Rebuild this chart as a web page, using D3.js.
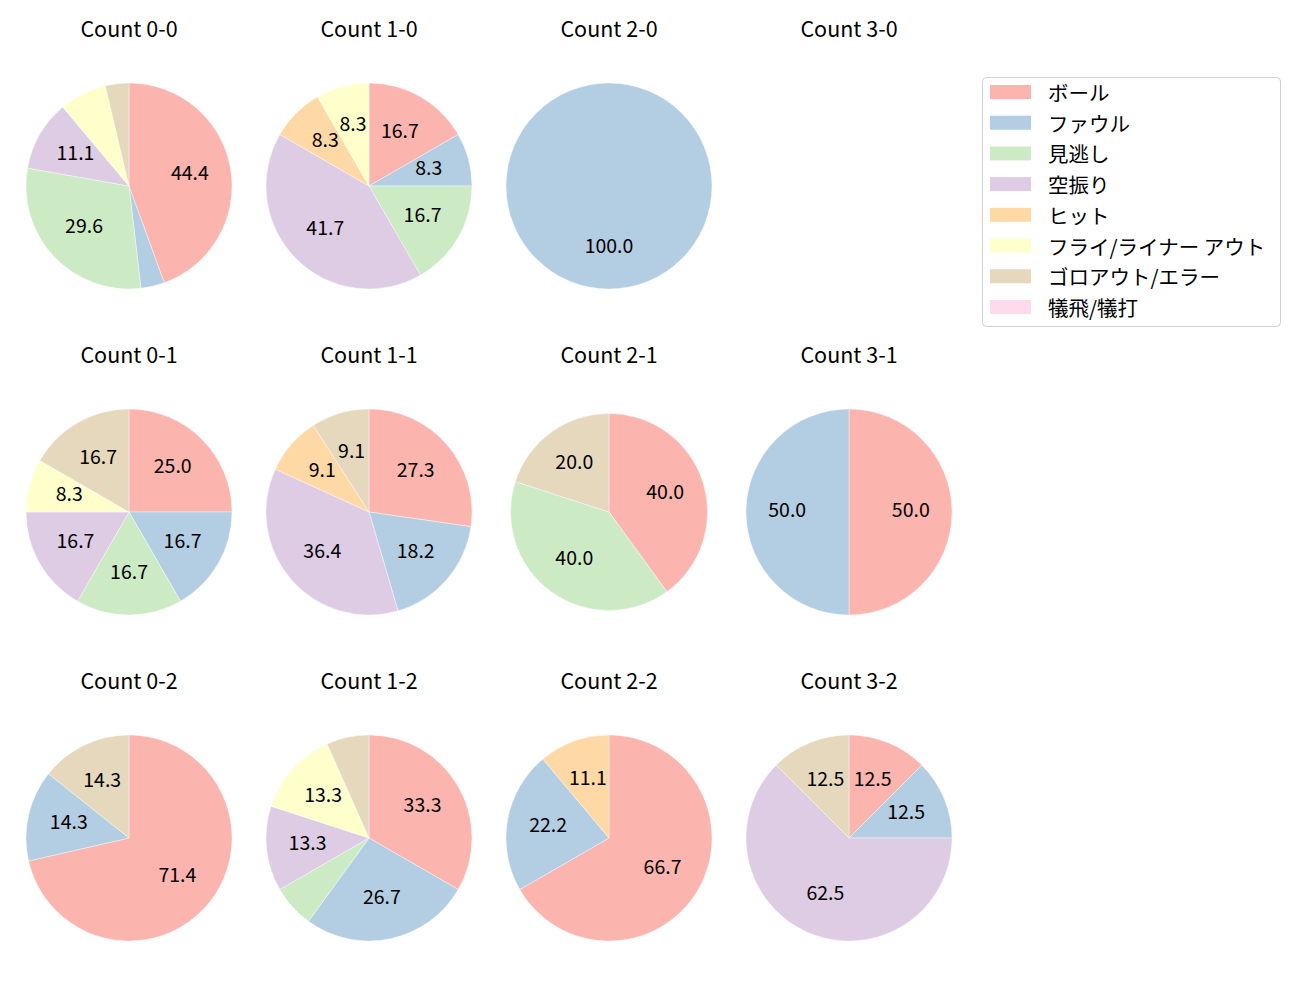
<!DOCTYPE html>
<html>
<head>
<meta charset="utf-8">
<script src="https://cdn.jsdelivr.net/npm/d3@7"></script>
<style>
    body { margin: 0; background: #fff; }
    text { font-family: "Noto Sans CJK JP", "Noto Sans", sans-serif; fill: #000; }
</style>
</head>
<body>
<svg id="svg" width="1300" height="1000"></svg>
<script>
// pitch result categories (legend order)
var categories = ['ボール', 'ファウル', '見逃し', '空振り', 'ヒット', 'フライ/ライナー アウト', 'ゴロアウト/エラー', '犠飛/犠打'];
var colors = ['#fbb4ae', '#b3cde3', '#ccebc5', '#decbe4', '#fed9a6', '#ffffcc', '#e5d8bd', '#fddaec'];

// counts, laid out 4 per row
var counts = ['0-0', '1-0', '2-0', '3-0', '0-1', '1-1', '2-1', '3-1', '0-2', '1-2', '2-2', '3-2'];

// number of pitches per category for each count
var c00 = [12, 1, 8, 3, 0, 2, 1, 0];
var c10 = [2, 1, 2, 5, 1, 1, 0, 0];
var c20 = [0, 1, 0, 0, 0, 0, 0, 0];
var c30 = [0, 0, 0, 0, 0, 0, 0, 0];
var c01 = [3, 2, 2, 2, 0, 1, 2, 0];
var c11 = [3, 2, 0, 4, 1, 0, 1, 0];
var c21 = [2, 0, 2, 0, 0, 0, 1, 0];
var c31 = [1, 1, 0, 0, 0, 0, 0, 0];
var c02 = [5, 1, 0, 0, 0, 0, 1, 0];
var c12 = [5, 4, 1, 2, 0, 2, 1, 0];
var c22 = [6, 2, 0, 0, 1, 0, 0, 0];
var c32 = [1, 1, 0, 5, 0, 0, 1, 0];
var countValues = [c00, c10, c20, c30, c01, c11, c21, c31, c02, c12, c22, c32];

var pieR = 103,
    smallR = {'2-1': 98.5},   // this one came out a bit smaller
    labelMin = 8;

var $svg = d3.select('#svg');

var xPos = d3.scalePoint().domain([0, 1, 2, 3]).range([129, 849]),
    yPos = d3.scalePoint().domain([0, 1, 2]).range([186, 838]),
    color = d3.scaleOrdinal().domain(categories).range(colors);

var pie = d3.pie().sort(null).value(function (d) { return d.v; });

counts.forEach(function (name, i) {
    var col = i % 4, row = Math.floor(i / 4),
        cx = xPos(col), cy = yPos(row),
        r = smallR[name] || pieR;

    var vals = countValues[i],
        total = d3.sum(vals);

    $svg.append('text')
        .attr('x', cx)
        .attr('y', cy - 157)
        .attr('dy', '0.36em')
        .attr('text-anchor', 'middle')
        .style('font-size', '21.5px')
        .text('Count ' + name);

    if (!total) return;

    var arc = d3.arc().innerRadius(0).outerRadius(r),
        labelArc = d3.arc().innerRadius(r * 0.6).outerRadius(r * 0.6);

    var data = vals.map(function (v, k) { return {cat: categories[k], v: v}; });
    var arcs = pie(data).filter(function (a) { return a.data.v > 0; });

    var $g = $svg.append('g')
        .attr('transform', 'translate(' + cx + ',' + cy + ')');

    $g.selectAll('path')
        .data(arcs)
        .enter()
        .append('path')
        .attr('d', arc)
        .attr('fill', function (a) { return color(a.data.cat); })
        .attr('stroke', '#fff')
        .attr('stroke-width', 0.4);

    $g.selectAll('text')
        .data(arcs.filter(function (a) { return a.data.v / total * 100 >= labelMin; }))
        .enter()
        .append('text')
        .attr('transform', function (a) { return 'translate(' + labelArc.centroid(a) + ')'; })
        .attr('dy', '0.26em')
        .attr('text-anchor', 'middle')
        .style('font-size', '19.5px')
        .text(function (a) { return (a.data.v / total * 100).toFixed(1); });
});

// legend
var $legend = $svg.append('g')
    .attr('class', 'legend')
    .attr('transform', 'translate(982,77)');

$legend.append('rect')
    .attr('x', 0.5)
    .attr('y', 0.5)
    .attr('width', 298)
    .attr('height', 249)
    .attr('rx', 4)
    .attr('fill', '#fff')
    .attr('stroke', '#d0d0d0');

var legendY = d3.scalePoint().domain(categories).range([15, 230]);

var $items = $legend.selectAll('g.item')
    .data(categories)
    .enter()
    .append('g')
    .attr('class', 'item')
    .attr('transform', function (d) { return 'translate(0,' + legendY(d) + ')'; });

$items.append('rect')
    .attr('x', 8)
    .attr('y', -7)
    .attr('width', 41)
    .attr('height', 14)
    .attr('fill', function (d) { return color(d); });

$items.append('text')
    .attr('x', 66)
    .attr('dominant-baseline', 'central')
    .style('font-size', '20.5px')
    .text(function (d) { return d; });
</script>
</body>
</html>
